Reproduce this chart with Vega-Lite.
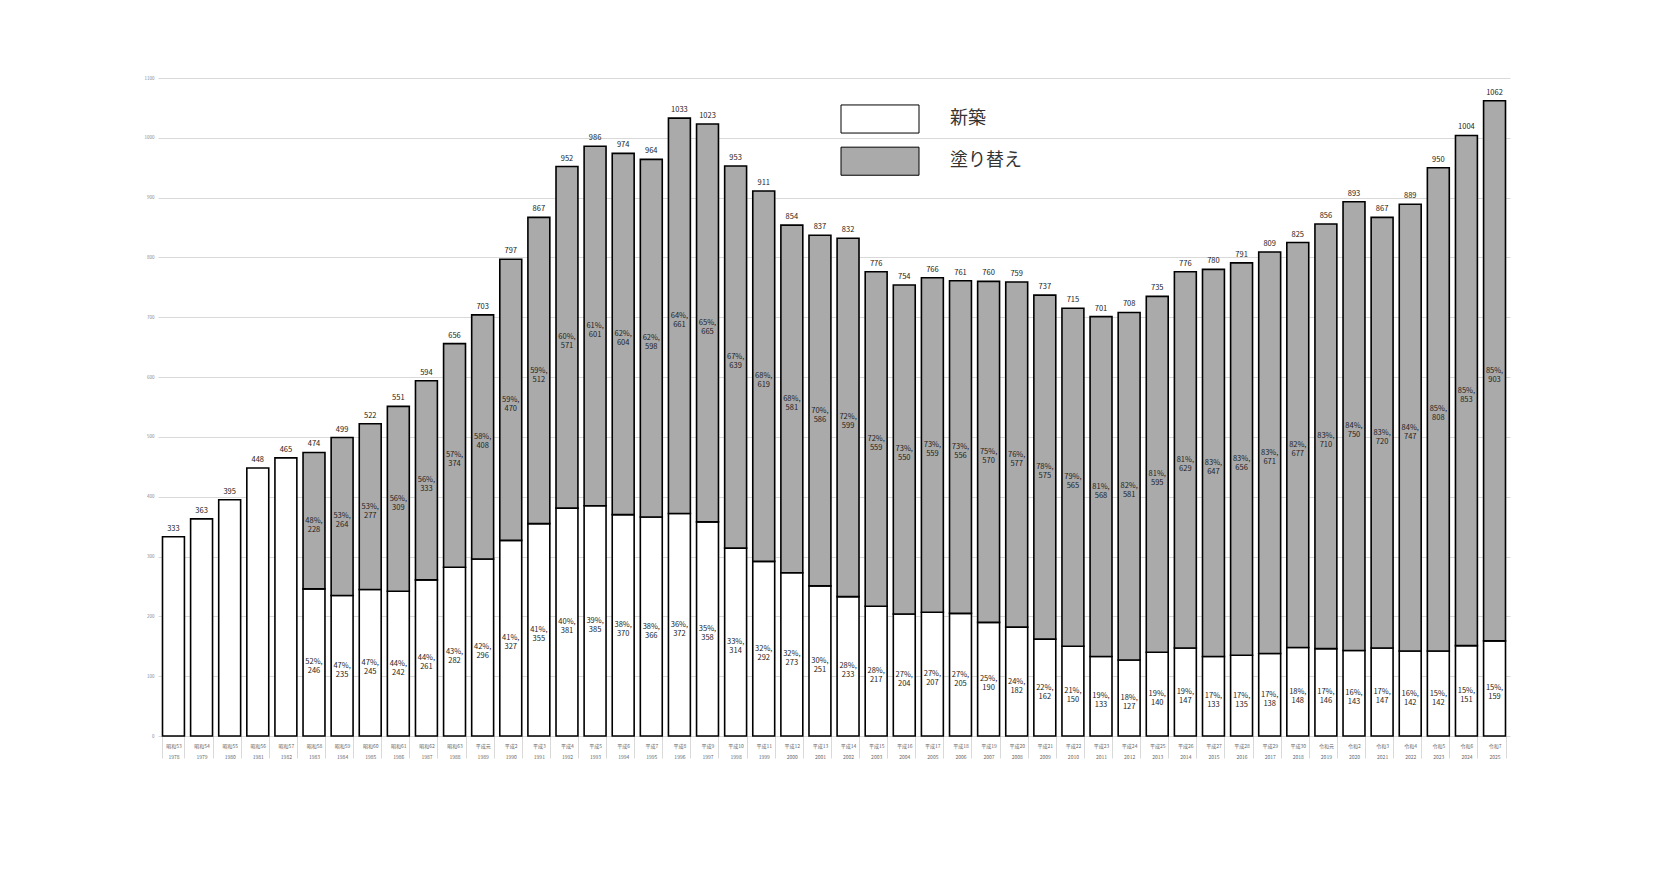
{
  "$schema": "https://vega.github.io/schema/vega-lite/v6.json",
  "width": 1352,
  "height": 658,
  "autosize": {"type": "none"},
  "padding": {"left": 158, "top": 78, "right": 144, "bottom": 150},
  "background": "white",
  "config": {
    "view": {"stroke": null},
    "font": "Noto Sans CJK JP"
  },
  "data": {
    "values": [
      {"label": "昭和53 1978", "year": 1978, "type": "新築", "value": 333, "pct": null, "total": 333},
      {"label": "昭和54 1979", "year": 1979, "type": "新築", "value": 363, "pct": null, "total": 363},
      {"label": "昭和55 1980", "year": 1980, "type": "新築", "value": 395, "pct": null, "total": 395},
      {"label": "昭和56 1981", "year": 1981, "type": "新築", "value": 448, "pct": null, "total": 448},
      {"label": "昭和57 1982", "year": 1982, "type": "新築", "value": 465, "pct": null, "total": 465},
      {"label": "昭和58 1983", "year": 1983, "type": "新築", "value": 246, "pct": 52, "total": 474},
      {"label": "昭和58 1983", "year": 1983, "type": "塗り替え", "value": 228, "pct": 48, "total": 474},
      {"label": "昭和59 1984", "year": 1984, "type": "新築", "value": 235, "pct": 47, "total": 499},
      {"label": "昭和59 1984", "year": 1984, "type": "塗り替え", "value": 264, "pct": 53, "total": 499},
      {"label": "昭和60 1985", "year": 1985, "type": "新築", "value": 245, "pct": 47, "total": 522},
      {"label": "昭和60 1985", "year": 1985, "type": "塗り替え", "value": 277, "pct": 53, "total": 522},
      {"label": "昭和61 1986", "year": 1986, "type": "新築", "value": 242, "pct": 44, "total": 551},
      {"label": "昭和61 1986", "year": 1986, "type": "塗り替え", "value": 309, "pct": 56, "total": 551},
      {"label": "昭和62 1987", "year": 1987, "type": "新築", "value": 261, "pct": 44, "total": 594},
      {"label": "昭和62 1987", "year": 1987, "type": "塗り替え", "value": 333, "pct": 56, "total": 594},
      {"label": "昭和63 1988", "year": 1988, "type": "新築", "value": 282, "pct": 43, "total": 656},
      {"label": "昭和63 1988", "year": 1988, "type": "塗り替え", "value": 374, "pct": 57, "total": 656},
      {"label": "平成元 1989", "year": 1989, "type": "新築", "value": 296, "pct": 42, "total": 703},
      {"label": "平成元 1989", "year": 1989, "type": "塗り替え", "value": 408, "pct": 58, "total": 703},
      {"label": "平成2 1990", "year": 1990, "type": "新築", "value": 327, "pct": 41, "total": 797},
      {"label": "平成2 1990", "year": 1990, "type": "塗り替え", "value": 470, "pct": 59, "total": 797},
      {"label": "平成3 1991", "year": 1991, "type": "新築", "value": 355, "pct": 41, "total": 867},
      {"label": "平成3 1991", "year": 1991, "type": "塗り替え", "value": 512, "pct": 59, "total": 867},
      {"label": "平成4 1992", "year": 1992, "type": "新築", "value": 381, "pct": 40, "total": 952},
      {"label": "平成4 1992", "year": 1992, "type": "塗り替え", "value": 571, "pct": 60, "total": 952},
      {"label": "平成5 1993", "year": 1993, "type": "新築", "value": 385, "pct": 39, "total": 986},
      {"label": "平成5 1993", "year": 1993, "type": "塗り替え", "value": 601, "pct": 61, "total": 986},
      {"label": "平成6 1994", "year": 1994, "type": "新築", "value": 370, "pct": 38, "total": 974},
      {"label": "平成6 1994", "year": 1994, "type": "塗り替え", "value": 604, "pct": 62, "total": 974},
      {"label": "平成7 1995", "year": 1995, "type": "新築", "value": 366, "pct": 38, "total": 964},
      {"label": "平成7 1995", "year": 1995, "type": "塗り替え", "value": 598, "pct": 62, "total": 964},
      {"label": "平成8 1996", "year": 1996, "type": "新築", "value": 372, "pct": 36, "total": 1033},
      {"label": "平成8 1996", "year": 1996, "type": "塗り替え", "value": 661, "pct": 64, "total": 1033},
      {"label": "平成9 1997", "year": 1997, "type": "新築", "value": 358, "pct": 35, "total": 1023},
      {"label": "平成9 1997", "year": 1997, "type": "塗り替え", "value": 665, "pct": 65, "total": 1023},
      {"label": "平成10 1998", "year": 1998, "type": "新築", "value": 314, "pct": 33, "total": 953},
      {"label": "平成10 1998", "year": 1998, "type": "塗り替え", "value": 639, "pct": 67, "total": 953},
      {"label": "平成11 1999", "year": 1999, "type": "新築", "value": 292, "pct": 32, "total": 911},
      {"label": "平成11 1999", "year": 1999, "type": "塗り替え", "value": 619, "pct": 68, "total": 911},
      {"label": "平成12 2000", "year": 2000, "type": "新築", "value": 273, "pct": 32, "total": 854},
      {"label": "平成12 2000", "year": 2000, "type": "塗り替え", "value": 581, "pct": 68, "total": 854},
      {"label": "平成13 2001", "year": 2001, "type": "新築", "value": 251, "pct": 30, "total": 837},
      {"label": "平成13 2001", "year": 2001, "type": "塗り替え", "value": 586, "pct": 70, "total": 837},
      {"label": "平成14 2002", "year": 2002, "type": "新築", "value": 233, "pct": 28, "total": 832},
      {"label": "平成14 2002", "year": 2002, "type": "塗り替え", "value": 599, "pct": 72, "total": 832},
      {"label": "平成15 2003", "year": 2003, "type": "新築", "value": 217, "pct": 28, "total": 776},
      {"label": "平成15 2003", "year": 2003, "type": "塗り替え", "value": 559, "pct": 72, "total": 776},
      {"label": "平成16 2004", "year": 2004, "type": "新築", "value": 204, "pct": 27, "total": 754},
      {"label": "平成16 2004", "year": 2004, "type": "塗り替え", "value": 550, "pct": 73, "total": 754},
      {"label": "平成17 2005", "year": 2005, "type": "新築", "value": 207, "pct": 27, "total": 766},
      {"label": "平成17 2005", "year": 2005, "type": "塗り替え", "value": 559, "pct": 73, "total": 766},
      {"label": "平成18 2006", "year": 2006, "type": "新築", "value": 205, "pct": 27, "total": 761},
      {"label": "平成18 2006", "year": 2006, "type": "塗り替え", "value": 556, "pct": 73, "total": 761},
      {"label": "平成19 2007", "year": 2007, "type": "新築", "value": 190, "pct": 25, "total": 760},
      {"label": "平成19 2007", "year": 2007, "type": "塗り替え", "value": 570, "pct": 75, "total": 760},
      {"label": "平成20 2008", "year": 2008, "type": "新築", "value": 182, "pct": 24, "total": 759},
      {"label": "平成20 2008", "year": 2008, "type": "塗り替え", "value": 577, "pct": 76, "total": 759},
      {"label": "平成21 2009", "year": 2009, "type": "新築", "value": 162, "pct": 22, "total": 737},
      {"label": "平成21 2009", "year": 2009, "type": "塗り替え", "value": 575, "pct": 78, "total": 737},
      {"label": "平成22 2010", "year": 2010, "type": "新築", "value": 150, "pct": 21, "total": 715},
      {"label": "平成22 2010", "year": 2010, "type": "塗り替え", "value": 565, "pct": 79, "total": 715},
      {"label": "平成23 2011", "year": 2011, "type": "新築", "value": 133, "pct": 19, "total": 701},
      {"label": "平成23 2011", "year": 2011, "type": "塗り替え", "value": 568, "pct": 81, "total": 701},
      {"label": "平成24 2012", "year": 2012, "type": "新築", "value": 127, "pct": 18, "total": 708},
      {"label": "平成24 2012", "year": 2012, "type": "塗り替え", "value": 581, "pct": 82, "total": 708},
      {"label": "平成25 2013", "year": 2013, "type": "新築", "value": 140, "pct": 19, "total": 735},
      {"label": "平成25 2013", "year": 2013, "type": "塗り替え", "value": 595, "pct": 81, "total": 735},
      {"label": "平成26 2014", "year": 2014, "type": "新築", "value": 147, "pct": 19, "total": 776},
      {"label": "平成26 2014", "year": 2014, "type": "塗り替え", "value": 629, "pct": 81, "total": 776},
      {"label": "平成27 2015", "year": 2015, "type": "新築", "value": 133, "pct": 17, "total": 780},
      {"label": "平成27 2015", "year": 2015, "type": "塗り替え", "value": 647, "pct": 83, "total": 780},
      {"label": "平成28 2016", "year": 2016, "type": "新築", "value": 135, "pct": 17, "total": 791},
      {"label": "平成28 2016", "year": 2016, "type": "塗り替え", "value": 656, "pct": 83, "total": 791},
      {"label": "平成29 2017", "year": 2017, "type": "新築", "value": 138, "pct": 17, "total": 809},
      {"label": "平成29 2017", "year": 2017, "type": "塗り替え", "value": 671, "pct": 83, "total": 809},
      {"label": "平成30 2018", "year": 2018, "type": "新築", "value": 148, "pct": 18, "total": 825},
      {"label": "平成30 2018", "year": 2018, "type": "塗り替え", "value": 677, "pct": 82, "total": 825},
      {"label": "令和元 2019", "year": 2019, "type": "新築", "value": 146, "pct": 17, "total": 856},
      {"label": "令和元 2019", "year": 2019, "type": "塗り替え", "value": 710, "pct": 83, "total": 856},
      {"label": "令和2 2020", "year": 2020, "type": "新築", "value": 143, "pct": 16, "total": 893},
      {"label": "令和2 2020", "year": 2020, "type": "塗り替え", "value": 750, "pct": 84, "total": 893},
      {"label": "令和3 2021", "year": 2021, "type": "新築", "value": 147, "pct": 17, "total": 867},
      {"label": "令和3 2021", "year": 2021, "type": "塗り替え", "value": 720, "pct": 83, "total": 867},
      {"label": "令和4 2022", "year": 2022, "type": "新築", "value": 142, "pct": 16, "total": 889},
      {"label": "令和4 2022", "year": 2022, "type": "塗り替え", "value": 747, "pct": 84, "total": 889},
      {"label": "令和5 2023", "year": 2023, "type": "新築", "value": 142, "pct": 15, "total": 950},
      {"label": "令和5 2023", "year": 2023, "type": "塗り替え", "value": 808, "pct": 85, "total": 950},
      {"label": "令和6 2024", "year": 2024, "type": "新築", "value": 151, "pct": 15, "total": 1004},
      {"label": "令和6 2024", "year": 2024, "type": "塗り替え", "value": 853, "pct": 85, "total": 1004},
      {"label": "令和7 2025", "year": 2025, "type": "新築", "value": 159, "pct": 15, "total": 1062},
      {"label": "令和7 2025", "year": 2025, "type": "塗り替え", "value": 903, "pct": 85, "total": 1062}
    ]
  },
  "transform": [
    {"calculate": "datum.type === '新築' ? 0 : 1", "as": "order"},
    {"stack": "value", "groupby": ["label"], "sort": [{"field": "order", "order": "ascending"}], "as": ["v0", "v1"]},
    {"calculate": "(datum.v0 + datum.v1) / 2", "as": "mid"},
    {"calculate": "datum.pct + '%,\\n' + datum.value", "as": "txt"}
  ],
  "encoding": {
    "x": {
      "field": "label",
      "type": "nominal",
      "sort": {"field": "year", "op": "min"},
      "title": null,
      "scale": {"paddingInner": 0.22, "paddingOuter": 0.16},
      "axis": {
        "labelAngle": 0,
        "labelExpr": "datum.value ? split(datum.value, ' ') : ''",
        "labelFontSize": 5,
        "labelLineHeight": 11,
        "labelColor": "#666",
        "labelPadding": -15,
        "tickBand": "extent",
        "tickSize": 22,
        "tickColor": "#d9d9d9",
        "tickWidth": 1,
        "domain": false,
        "grid": false
      }
    }
  },
  "layer": [
    {
      "mark": {"type": "bar", "stroke": "black", "strokeWidth": 1.6},
      "encoding": {
        "y": {
          "field": "v0",
          "type": "quantitative",
          "title": null,
          "scale": {"domain": [0, 1100], "nice": false},
          "axis": {
            "values": [0, 100, 200, 300, 400, 500, 600, 700, 800, 900, 1000, 1100],
            "format": "d",
            "labelFontSize": 4.5,
            "labelColor": "#888",
            "labelPadding": 4,
            "ticks": false,
            "domain": false,
            "gridColor": "#d9d9d9",
            "gridWidth": 1
          }
        },
        "y2": {"field": "v1"},
        "color": {
          "field": "type",
          "type": "nominal",
          "scale": {"domain": ["新築", "塗り替え"], "range": ["#ffffff", "#aaaaaa"]},
          "legend": {
            "title": null,
            "orient": "none",
            "legendX": 702,
            "legendY": 21,
            "padding": 0,
            "symbolType": "M-2,-0.72H2V0.72H-2Z",
            "symbolSize": 1521,
            "symbolStrokeColor": "black",
            "symbolStrokeWidth": 1,
            "symbolOpacity": 1,
            "labelFontSize": 18,
            "labelOffset": 50,
            "labelColor": "#333",
            "rowPadding": 5.2
          }
        }
      }
    },
    {
      "transform": [{"filter": "datum.pct != null"}],
      "mark": {"type": "text", "lineBreak": "\n", "fontSize": 7.5, "lineHeight": 9, "baseline": "middle", "color": "#222"},
      "encoding": {
        "y": {"field": "mid", "type": "quantitative"},
        "text": {"field": "txt", "type": "nominal"}
      }
    },
    {
      "transform": [{"filter": "datum.order === 0"}],
      "mark": {"type": "text", "baseline": "bottom", "dy": -4, "fontSize": 7.5, "color": "#222"},
      "encoding": {
        "y": {"field": "total", "type": "quantitative"},
        "text": {"field": "total", "type": "quantitative"}
      }
    }
  ]
}
